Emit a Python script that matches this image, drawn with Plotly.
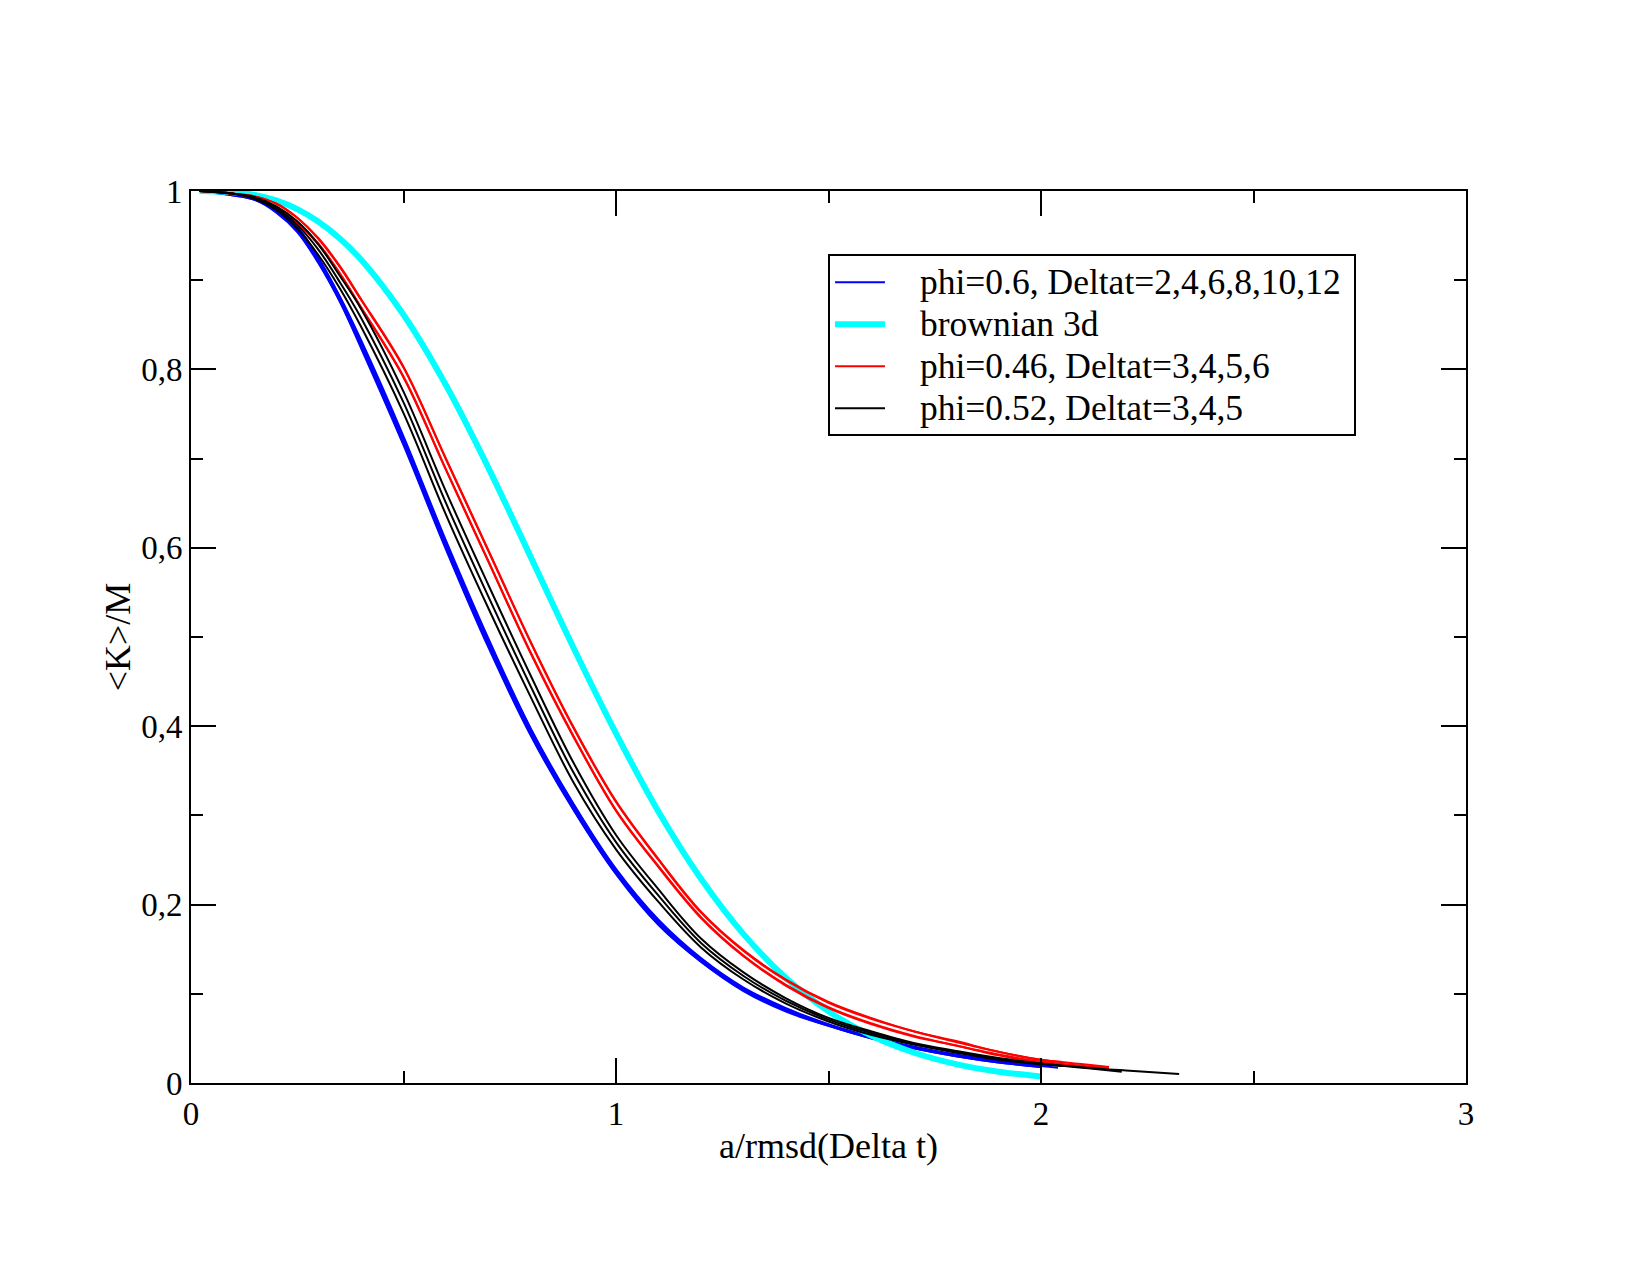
import plotly.graph_objects as go

# shared abscissa grid (a / rmsd(Delta t))
X_GRID = [0.02, 0.1, 0.15, 0.2, 0.25, 0.3, 0.35, 0.4, 0.5, 0.6, 0.7, 0.8, 0.9, 1.0,
          1.1, 1.2, 1.3, 1.4, 1.5, 1.6, 1.7, 1.8, 1.9, 2.0]

# phi=0.6, Deltat=2,4,6,8,10,12 (blue)
BLUE_1 = [1.0, 0.996, 0.991, 0.978, 0.957, 0.922, 0.879, 0.828, 0.720, 0.603, 0.493, 0.393,
          0.310, 0.237, 0.180, 0.138, 0.105, 0.082, 0.065, 0.051, 0.040, 0.031, 0.024, 0.019]
BLUE_2 = [1.0, 0.996, 0.991, 0.979, 0.959, 0.924, 0.881, 0.831, 0.723, 0.606, 0.496, 0.396,
          0.312, 0.239, 0.182, 0.139, 0.106, 0.083, 0.065, 0.051, 0.040, 0.031, 0.024, 0.019]
BLUE_3 = [1.0, 0.995, 0.990, 0.977, 0.955, 0.920, 0.877, 0.826, 0.717, 0.600, 0.490, 0.390,
          0.307, 0.235, 0.178, 0.136, 0.104, 0.081, 0.064, 0.050, 0.039, 0.030, 0.023, 0.018]
BLUE_4 = [1.0, 0.996, 0.992, 0.980, 0.960, 0.925, 0.882, 0.833, 0.725, 0.608, 0.498, 0.397,
          0.313, 0.240, 0.183, 0.140, 0.107, 0.084, 0.066, 0.052, 0.041, 0.032, 0.025, 0.019]
BLUE_5 = [1.0, 0.995, 0.990, 0.976, 0.954, 0.919, 0.876, 0.824, 0.715, 0.598, 0.488, 0.389,
          0.306, 0.234, 0.177, 0.136, 0.103, 0.080, 0.064, 0.050, 0.039, 0.030, 0.023, 0.018]
BLUE_6 = [1.0, 0.996, 0.991, 0.978, 0.958, 0.923, 0.880, 0.829, 0.721, 0.604, 0.494, 0.394,
          0.311, 0.238, 0.181, 0.139, 0.106, 0.083, 0.065, 0.051, 0.040, 0.031, 0.024, 0.019]
BLUE_END_X = [[], [], [], [2.04], [], []]
BLUE_END_Y = [[], [], [], [0.017], [], []]

# brownian 3d (cyan)
CYAN = [1.0, 0.9986, 0.9955, 0.9894, 0.9797, 0.9656, 0.9468, 0.9232, 0.8612, 0.7822, 0.6894,
        0.589, 0.488, 0.392, 0.3042, 0.229, 0.1669, 0.1176, 0.0803, 0.0532, 0.0342, 0.0212,
        0.0127, 0.0074]

# phi=0.46, Deltat=3,4,5,6 (red)
RED_1 = [1.0, 0.997, 0.992, 0.982, 0.964, 0.940, 0.907, 0.869, 0.791, 0.687, 0.584, 0.481,
         0.388, 0.305, 0.242, 0.185, 0.142, 0.109, 0.084, 0.066, 0.052, 0.042, 0.031, 0.023]
RED_2 = [1.0, 0.997, 0.992, 0.982, 0.965, 0.941, 0.908, 0.870, 0.792, 0.688, 0.585, 0.482,
         0.389, 0.306, 0.243, 0.186, 0.143, 0.110, 0.085, 0.067, 0.053, 0.042, 0.032, 0.024]
RED_3 = [1.0, 0.997, 0.994, 0.986, 0.970, 0.946, 0.915, 0.878, 0.802, 0.699, 0.596, 0.493,
         0.398, 0.315, 0.250, 0.191, 0.148, 0.115, 0.090, 0.072, 0.058, 0.046, 0.035, 0.026]
RED_4 = [1.0, 0.997, 0.994, 0.986, 0.970, 0.947, 0.916, 0.879, 0.803, 0.700, 0.597, 0.494,
         0.399, 0.316, 0.251, 0.192, 0.149, 0.116, 0.091, 0.073, 0.058, 0.047, 0.035, 0.026]
RED_END_X = [[2.1], [2.1, 2.16], [2.1, 2.16], [2.05]]
RED_END_Y = [[0.019], [0.019, 0.0165], [0.021, 0.018], [0.0235]]

# phi=0.52, Deltat=3,4,5 (black)
BLACK_1 = [1.0, 0.997, 0.991, 0.979, 0.958, 0.928, 0.891, 0.848, 0.751, 0.637, 0.532, 0.432,
           0.337, 0.262, 0.203, 0.152, 0.116, 0.089, 0.069, 0.054, 0.043, 0.034, 0.026, 0.021]
BLACK_2 = [1.0, 0.997, 0.992, 0.981, 0.962, 0.934, 0.898, 0.858, 0.763, 0.650, 0.545, 0.444,
           0.348, 0.270, 0.210, 0.157, 0.120, 0.092, 0.071, 0.056, 0.044, 0.035, 0.027, 0.0215]
BLACK_3 = [1.0, 0.997, 0.993, 0.983, 0.966, 0.940, 0.905, 0.868, 0.775, 0.663, 0.558, 0.456,
           0.359, 0.278, 0.217, 0.162, 0.124, 0.095, 0.073, 0.058, 0.045, 0.036, 0.028, 0.022]
BLACK_END_X = [[2.05], [2.1, 2.19], [2.1, 2.2, 2.325]]
BLACK_END_Y = [[0.019], [0.017, 0.0127], [0.0175, 0.014, 0.0101]]

LEGEND_NAMES = ["phi=0.6, Deltat=2,4,6,8,10,12", "brownian 3d",
                "phi=0.46, Deltat=3,4,5,6", "phi=0.52, Deltat=3,4,5"]

X_TICKS = [0, 1, 2, 3]
X_TICK_TEXT = ["0", "1", "2", "3"]
Y_TICKS = [0, 0.2, 0.4, 0.6, 0.8, 1.0]
Y_TICK_TEXT = ["0", "0,2", "0,4", "0,6", "0,8", "1"]

FONT = "Liberation Serif, Times New Roman, serif"


def legend_label(name):
    pad = "\u00a0" * 4
    return pad + '<span style="font-size:35.5px">' + name + "</span>\u00a0"


fig = go.Figure()


def add_group(curves, ends_x, ends_y, color, width, name, group):
    for i, ys in enumerate(curves):
        fig.add_trace(go.Scatter(
            x=X_GRID + ends_x[i], y=ys + ends_y[i], mode="lines",
            line=dict(color=color, width=width, shape="spline", smoothing=1.0),
            name=legend_label(name), legendgroup=group, showlegend=(i == 0),
            hoverinfo="skip"))


add_group([BLUE_1, BLUE_2, BLUE_3, BLUE_4, BLUE_5, BLUE_6], BLUE_END_X, BLUE_END_Y,
          "#0000ff", 2, LEGEND_NAMES[0], "g1")
add_group([CYAN], [[]], [[]], "#00ffff", 6, LEGEND_NAMES[1], "g2")
add_group([RED_1, RED_2, RED_3, RED_4], RED_END_X, RED_END_Y,
          "#ff0000", 2, LEGEND_NAMES[2], "g3")
add_group([BLACK_1, BLACK_2, BLACK_3], BLACK_END_X, BLACK_END_Y,
          "#000000", 2, LEGEND_NAMES[3], "g4")

axis_common = dict(
    showline=True, linecolor="black", linewidth=2, mirror="allticks",
    ticks="inside", ticklen=25, tickwidth=2, tickcolor="black",
    showgrid=False, zeroline=False,
    tickfont=dict(family=FONT, size=33, color="black"),
)

fig.update_xaxes(
    range=[0, 3], tickmode="array", tickvals=X_TICKS, ticktext=X_TICK_TEXT,
    minor=dict(dtick=0.5, tick0=0, ticks="inside", ticklen=12, tickwidth=2, tickcolor="black"),
    title=dict(text="a/rmsd(Delta t)", font=dict(family=FONT, size=36, color="black"), standoff=2),
    **axis_common)
fig.update_yaxes(
    range=[0, 1], tickmode="array", tickvals=Y_TICKS, ticktext=Y_TICK_TEXT,
    minor=dict(dtick=0.1, tick0=0, ticks="inside", ticklen=12, tickwidth=2, tickcolor="black"),
    title=dict(text="&lt;K&gt;/M", font=dict(family=FONT, size=36, color="black"), standoff=0),
    **axis_common)

fig.update_layout(
    width=1650, height=1275,
    margin=dict(l=191, r=184, t=191, b=192, autoexpand=False),
    paper_bgcolor="white", plot_bgcolor="white",
    font=dict(family=FONT, size=33, color="black"),
    showlegend=True,
    legend=dict(x=0.4996, y=0.929, xanchor="left", yanchor="top",
                bgcolor="white", bordercolor="black", borderwidth=2,
                font=dict(family=FONT, size=30, color="black"),
                tracegroupgap=0, itemwidth=50),
)

fig.write_html("out.html")
